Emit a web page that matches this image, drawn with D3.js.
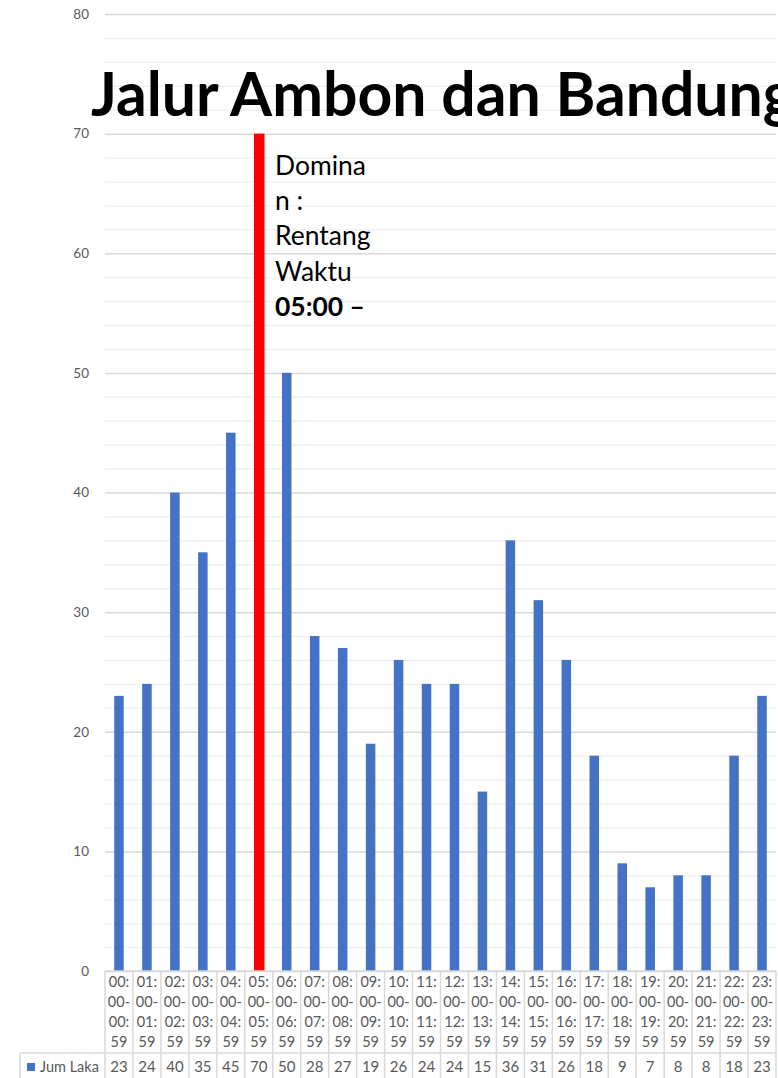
<!DOCTYPE html>
<html>
<head>
<meta charset="utf-8">
<script src="https://cdn.jsdelivr.net/npm/d3@7"></script>
<style>
  html, body { margin: 0; padding: 0; background: #fff; }
  svg { display: block; }
  text { font-family: Lato, "Open Sans", "Liberation Sans", sans-serif; }
</style>
</head>
<body>
<svg id="chart" width="778" height="1078"></svg>
<script>
// ---- data ----
const categories = ["00:00-00:59","01:00-01:59","02:00-02:59","03:00-03:59","04:00-04:59","05:00-05:59",
  "06:00-06:59","07:00-07:59","08:00-08:59","09:00-09:59","10:00-10:59","11:00-11:59","12:00-12:59",
  "13:00-13:59","14:00-14:59","15:00-15:59","16:00-16:59","17:00-17:59","18:00-18:59","19:00-19:59",
  "20:00-20:59","21:00-21:59","22:00-22:59","23:00-23:59"];
const jumLaka = [23,24,40,35,45,70,50,28,27,19,26,24,24,15,36,31,26,18,9,7,8,8,18,23];
const seriesName = "Jum Laka";
const highlightCategory = "05:00-05:59";
const yTicks = [0,10,20,30,40,50,60,70,80];
const yMinorTicks = d3.range(0, 81, 2);
const titleText = "Jalur Ambon dan Bandung";
const noteLines = ["Domina", "n :", "Rentang", "Waktu", "05:00 –"];

// ---- layout ----
const svg = d3.select("#chart");
const plotLeft = 105, plotRight = 776, plotTop = 14, plotBottom = 971;
const x = d3.scaleBand().domain(categories).range([plotLeft, plotRight]).padding(0);
const y = d3.scaleLinear().domain([0, 80]).range([plotBottom, plotTop]);
const blue = "#4472c4", red = "#ff0000", textGray = "#595959", borderGray = "#d9d9d9";

// minor gridlines
svg.append("g").selectAll("line").data(yMinorTicks.filter(v => v % 10 !== 0)).join("line")
  .attr("x1", plotLeft).attr("x2", plotRight)
  .attr("y1", d => y(d) + 0.5).attr("y2", d => y(d) + 0.5)
  .attr("stroke", "#f0f0f0").attr("stroke-width", 1.5);

// major gridlines
svg.append("g").selectAll("line").data(yTicks).join("line")
  .attr("x1", plotLeft).attr("x2", plotRight)
  .attr("y1", d => y(d) + 0.5).attr("y2", d => y(d) + 0.5)
  .attr("stroke", borderGray).attr("stroke-width", 1.5);

// y axis labels
const yAxis = d3.axisLeft(y).tickValues(yTicks).tickSize(0).tickPadding(16);
const yG = svg.append("g").attr("transform", `translate(${plotLeft},0)`).call(yAxis);
yG.select(".domain").remove();
yG.selectAll("text").attr("fill", textGray).style("font-size", "13.5px")
  .style("font-family", "Lato, 'Open Sans', sans-serif");

// title
const title = svg.append("text").attr("x", 91).attr("y", 116)
  .attr("font-weight", "bold").attr("fill", "#000").text(titleText);
title.style("font-size", "50px");
{
  const w = title.node().getComputedTextLength();
  const fs = 50 * 704 / w;
  title.style("font-size", fs + "px");
}

// bars
const barW = x.bandwidth() * 0.34;
svg.append("g").selectAll("rect").data(categories).join("rect")
  .attr("x", d => x(d) + (x.bandwidth() - barW) / 2)
  .attr("y", (d, i) => y(jumLaka[i]))
  .attr("width", d => d === highlightCategory ? barW + 1 : barW)
  .attr("height", (d, i) => y(0) - y(jumLaka[i]))
  .attr("fill", d => d === highlightCategory ? red : blue);

// annotation
const note = svg.append("g");
const noteSize = (() => {
  const t = note.append("text").style("font-size", "24px").text(noteLines[0]);
  const w = t.node().getComputedTextLength();
  t.remove();
  return 24 * 91 / w;
})();
noteLines.forEach((line, i) => {
  note.append("text").attr("x", 275).attr("y", 175 + i * 35.2)
    .style("font-size", noteSize + "px")
    .attr("font-weight", i === noteLines.length - 1 ? "bold" : "normal")
    .attr("fill", "#000").text(line);
});

// data table
const table = svg.append("g");
const row1Top = 971, row2Top = 1053, tableBottom = 1090, tableLeft = 20;
const lineStyle = sel => sel.attr("stroke", borderGray).attr("stroke-width", 1.5);
table.append("line").attr("x1", plotLeft).attr("x2", plotRight).attr("y1", row1Top).attr("y2", row1Top).call(lineStyle);
table.append("line").attr("x1", tableLeft).attr("x2", plotRight).attr("y1", row2Top).attr("y2", row2Top).call(lineStyle);
table.append("line").attr("x1", tableLeft).attr("x2", tableLeft).attr("y1", row2Top).attr("y2", tableBottom).call(lineStyle);
const bounds = categories.map(c => x(c)).concat([plotRight]);
table.selectAll("line.v").data(bounds).join("line").attr("class", "v")
  .attr("x1", d => d).attr("x2", d => d).attr("y1", row1Top).attr("y2", tableBottom).call(lineStyle);

// category labels (wrapped like the original)
categories.forEach(c => {
  const parts = c.match(/\d+[:\-]?/g);
  const t = table.append("text").attr("text-anchor", "middle").attr("fill", textGray)
    .style("font-size", "14.5px");
  parts.forEach((p, j) => {
    t.append("tspan").attr("x", x(c) + x.bandwidth() / 2).attr("y", 987 + j * 20).text(p);
  });
});

// values row
table.selectAll("text.val").data(categories).join("text").attr("class", "val")
  .attr("x", d => x(d) + x.bandwidth() / 2).attr("y", 1072)
  .attr("text-anchor", "middle").attr("fill", textGray).style("font-size", "15px")
  .text((d, i) => jumLaka[i]);

// legend key
table.append("rect").attr("x", 27).attr("y", 1063).attr("width", 8).attr("height", 8).attr("fill", blue);
table.append("text").attr("x", 40).attr("y", 1072).attr("fill", textGray)
  .style("font-size", "14.5px").text(seriesName);
</script>
</body>
</html>
